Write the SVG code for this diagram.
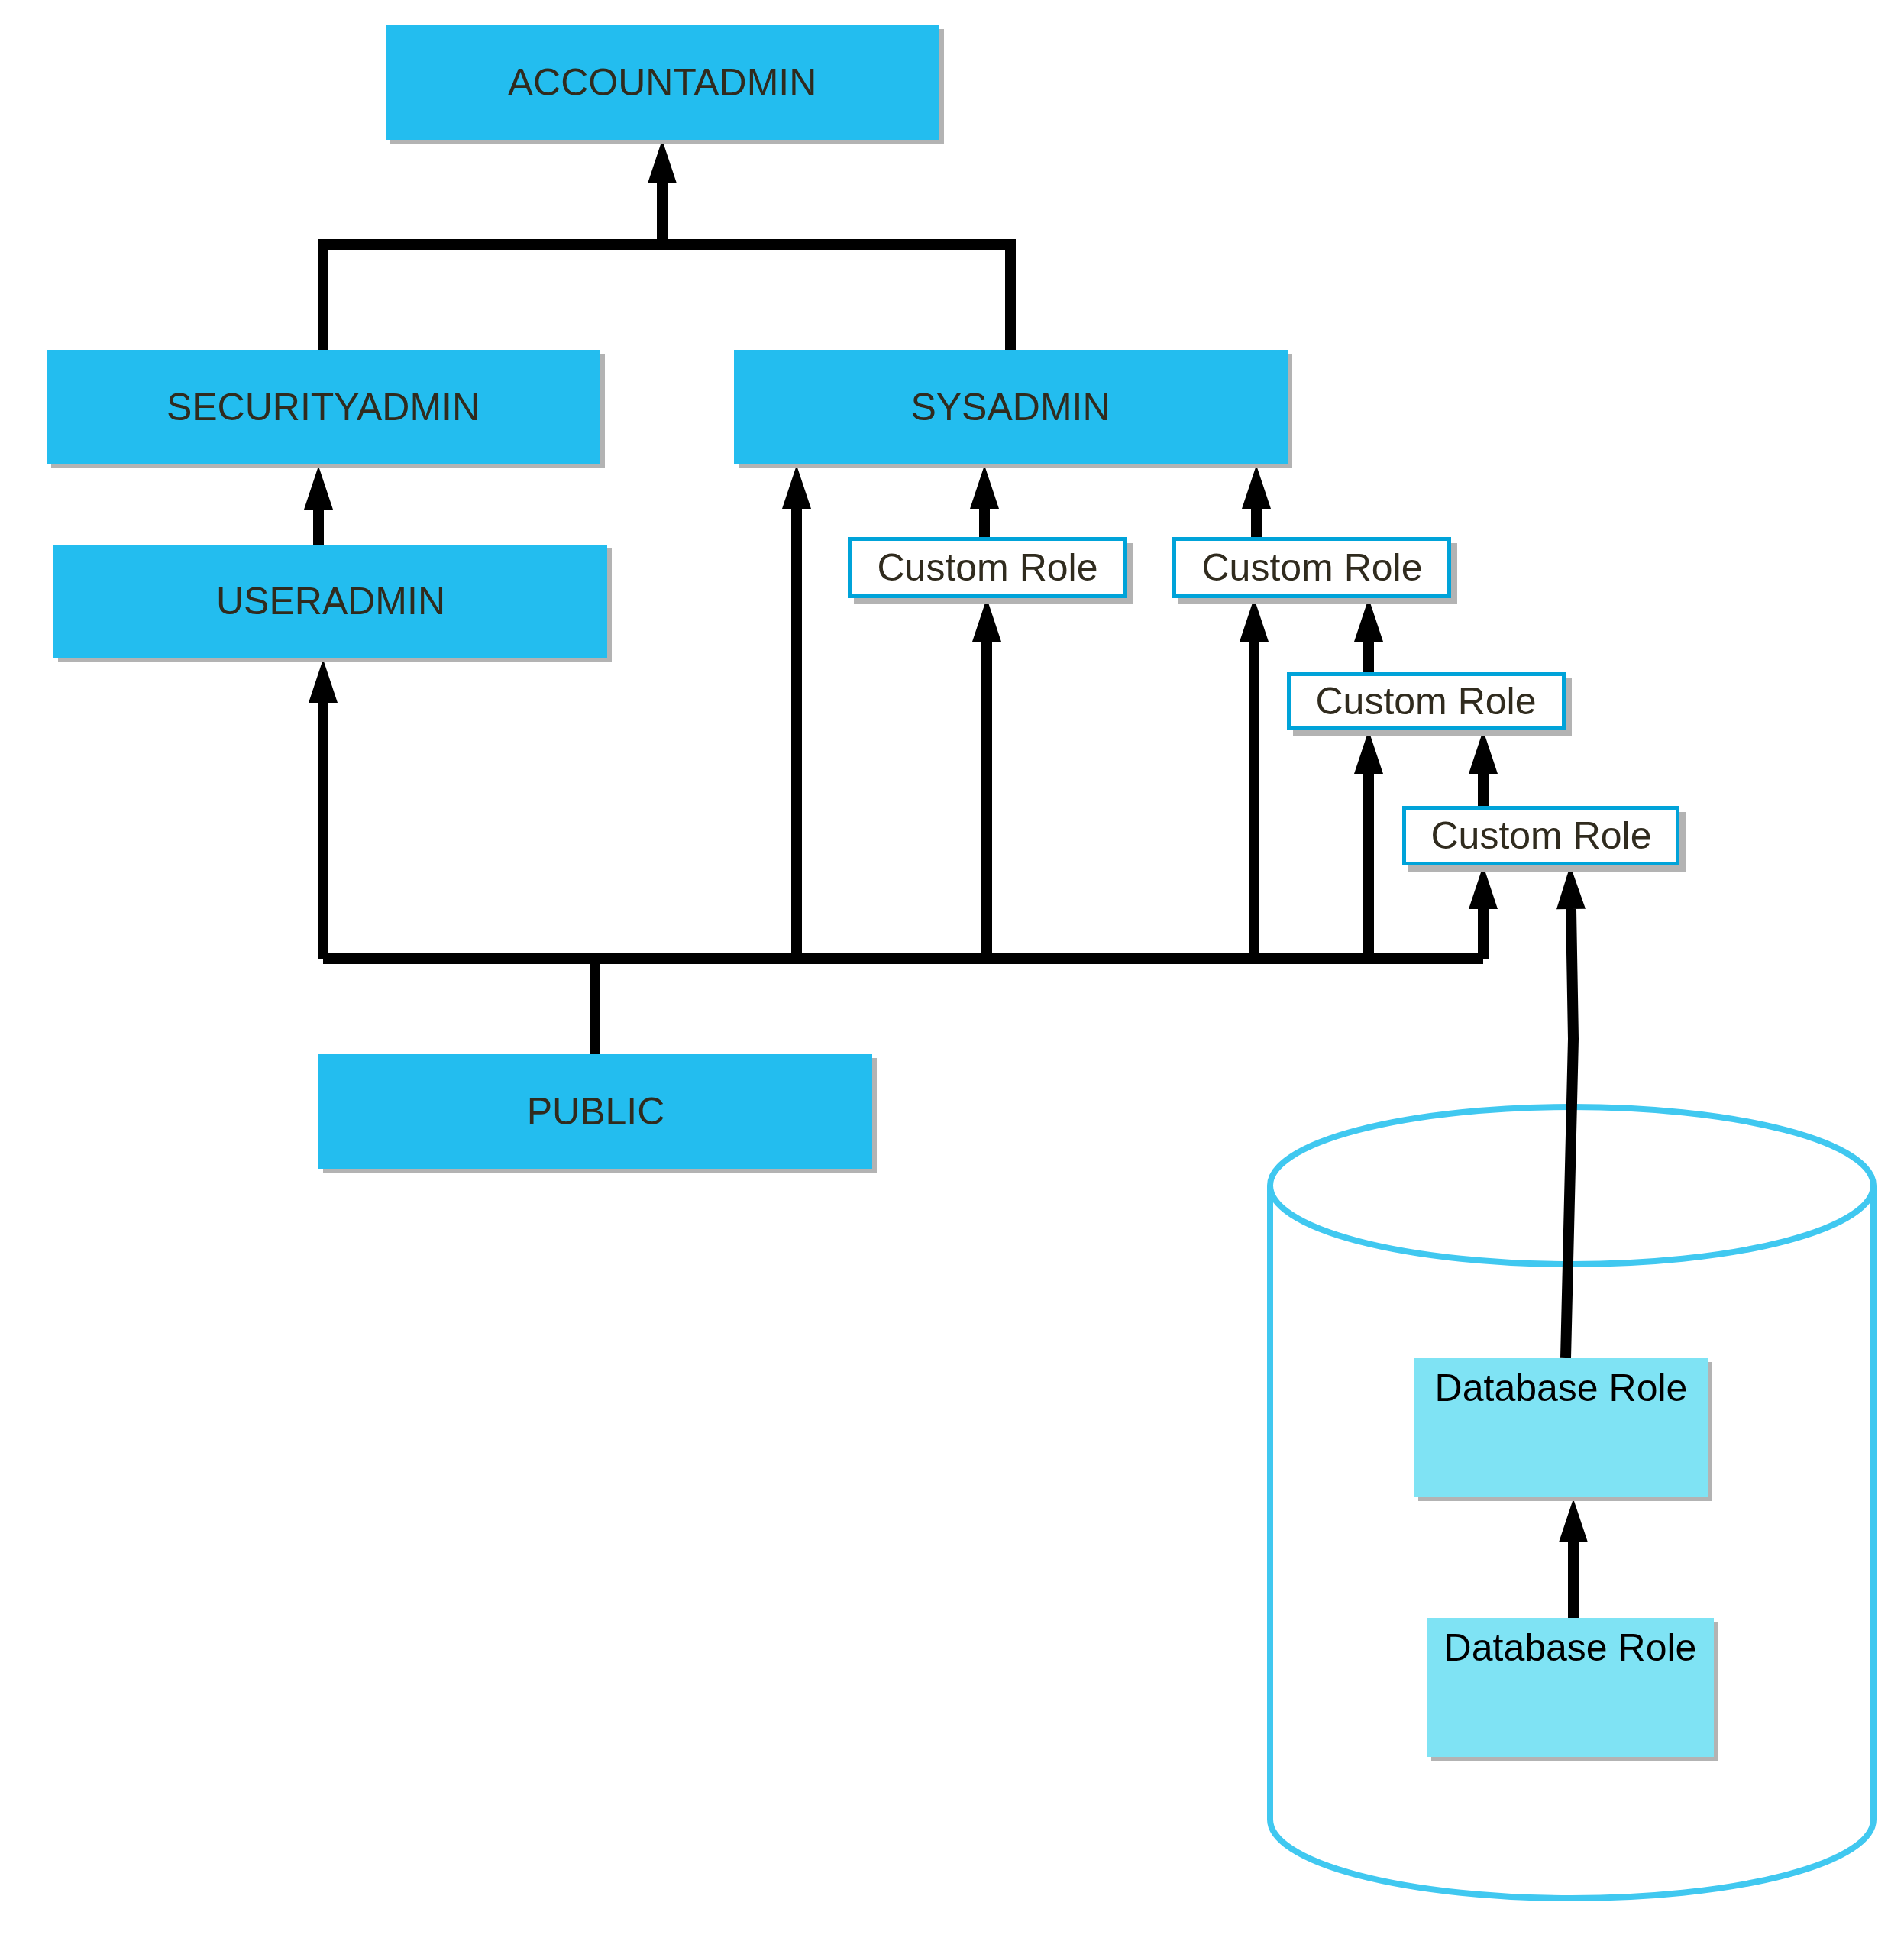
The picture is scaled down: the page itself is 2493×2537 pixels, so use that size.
<svg xmlns="http://www.w3.org/2000/svg" width="2493" height="2537" viewBox="0 0 2493 2537">
<style>
.bg{fill:#ffffff}
.shadow{fill:#b3b3b3}
.main{fill:#23bdef}
.db{fill:#7fe3f4}
.cr{fill:#ffffff;stroke:#00a3d9;stroke-width:5}
.lbl{font-family:"Liberation Sans",Arial,sans-serif;font-size:50px;fill:#302b1e;text-anchor:middle}
.dbl{font-family:"Liberation Sans",Arial,sans-serif;font-size:50px;fill:#000000;text-anchor:middle}
.cyl{fill:#ffffff;stroke:#40c8f0;stroke-width:8}
.edge{fill:none;stroke:#000000;stroke-width:14;stroke-linejoin:miter}
</style>
<defs>
<marker id="ah" markerUnits="userSpaceOnUse" markerWidth="60" markerHeight="40" viewBox="0 -20 60 40" refX="0" refY="0" orient="auto" overflow="visible">
<path d="M0,-19 L57,0 L0,19 z" fill="#000000"/>
</marker>
</defs>
<rect class="bg" x="0" y="0" width="2493" height="2537"/>

<g id="database">
<path class="cyl" d="M1663,1552 L1663,2382 A395,103 0 0 0 2453,2382 L2453,1552"/>
<ellipse class="cyl" cx="2058" cy="1552" rx="395" ry="103"/>
</g>

<g id="connectors">
<path class="edge" d="M423,458 L423,320 L1323,320 L1323,458"/>
<path class="edge" d="M867,320 L867,240" marker-end="url(#ah)"/>
<path class="edge" d="M417,713 L417,667" marker-end="url(#ah)"/>
<path class="edge" d="M779,1380 L779,1255"/>
<path class="edge" d="M423,1255 L1942,1255"/>
<path class="edge" d="M423,1255 L423,920" marker-end="url(#ah)"/>
<path class="edge" d="M1043,1255 L1043,666" marker-end="url(#ah)"/>
<path class="edge" d="M1292,1255 L1292,840" marker-end="url(#ah)"/>
<path class="edge" d="M1642,1255 L1642,840" marker-end="url(#ah)"/>
<path class="edge" d="M1792,1255 L1792,1013" marker-end="url(#ah)"/>
<path class="edge" d="M1942,1255 L1942,1190" marker-end="url(#ah)"/>
<path class="edge" d="M1289,703 L1289,666" marker-end="url(#ah)"/>
<path class="edge" d="M1645,703 L1645,666" marker-end="url(#ah)"/>
<path class="edge" d="M1792,880 L1792,840" marker-end="url(#ah)"/>
<path class="edge" d="M1942,1055 L1942,1013" marker-end="url(#ah)"/>
<path class="edge" d="M2050,1778 L2060,1360 L2057,1190" marker-end="url(#ah)"/>
<path class="edge" d="M2060,2118 L2060,2019" marker-end="url(#ah)"/>
</g>

<g id="accountadmin">
<rect class="shadow" x="511" y="38" width="725" height="150"/>
<rect class="main" x="505" y="33" width="725" height="150"/>
<text class="lbl" x="867" y="125">ACCOUNTADMIN</text>
</g>
<g id="securityadmin">
<rect class="shadow" x="67" y="463" width="725" height="150"/>
<rect class="main" x="61" y="458" width="725" height="150"/>
<text class="lbl" x="423" y="550">SECURITYADMIN</text>
</g>
<g id="sysadmin">
<rect class="shadow" x="967" y="463" width="725" height="150"/>
<rect class="main" x="961" y="458" width="725" height="150"/>
<text class="lbl" x="1323" y="550">SYSADMIN</text>
</g>
<g id="useradmin">
<rect class="shadow" x="76" y="718" width="725" height="149"/>
<rect class="main" x="70" y="713" width="725" height="149"/>
<text class="lbl" x="433" y="804">USERADMIN</text>
</g>
<g id="public">
<rect class="shadow" x="423" y="1385" width="725" height="150"/>
<rect class="main" x="417" y="1380" width="725" height="150"/>
<text class="lbl" x="780" y="1472">PUBLIC</text>
</g>

<g id="custom-role-1">
<rect class="shadow" x="1118" y="711" width="366" height="80"/>
<rect class="cr" x="1112.5" y="705.5" width="361" height="75"/>
<text class="lbl" x="1293" y="760">Custom Role</text>
</g>
<g id="custom-role-2">
<rect class="shadow" x="1543" y="711" width="365" height="80"/>
<rect class="cr" x="1537.5" y="705.5" width="360" height="75"/>
<text class="lbl" x="1718" y="760">Custom Role</text>
</g>
<g id="custom-role-3">
<rect class="shadow" x="1693" y="888" width="365" height="76"/>
<rect class="cr" x="1687.5" y="882.5" width="360" height="71"/>
<text class="lbl" x="1867" y="935">Custom Role</text>
</g>
<g id="custom-role-4">
<rect class="shadow" x="1844" y="1063" width="364" height="78"/>
<rect class="cr" x="1838.5" y="1057.5" width="358" height="73"/>
<text class="lbl" x="2018" y="1111">Custom Role</text>
</g>

<g id="database-role-1">
<rect class="shadow" x="1857" y="1783" width="384" height="182"/>
<rect class="db" x="1852" y="1778" width="384" height="182"/>
<text class="dbl" x="2044" y="1834">Database Role</text>
</g>
<g id="database-role-2">
<rect class="shadow" x="1874" y="2123" width="375" height="182"/>
<rect class="db" x="1869" y="2118" width="375" height="182"/>
<text class="dbl" x="2056" y="2174">Database Role</text>
</g>
</svg>
